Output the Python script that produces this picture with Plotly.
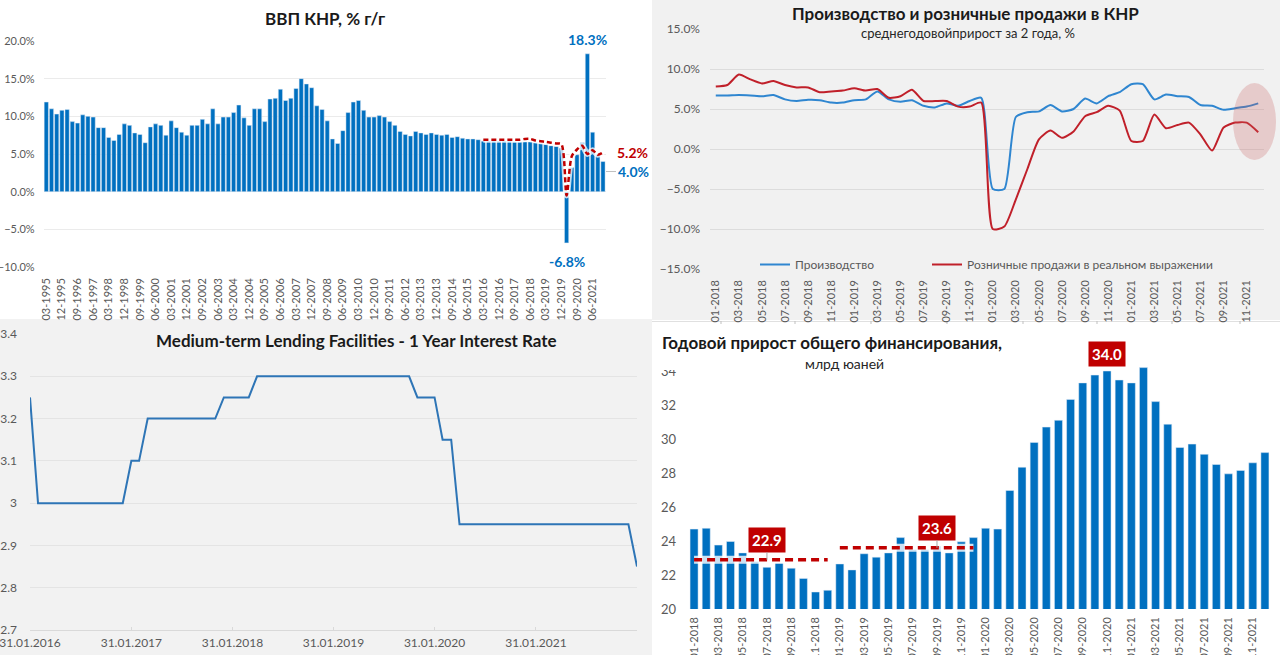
import plotly.graph_objects as go
import pandas as pd

W, H = 1280, 655
def fx(p): return p / W
def fy(p): return 1 - p / H

FONT = "Lato, 'Open Sans', Roboto, sans-serif"
TICK = "#595959"
BLUE = "#0070C0"
RED = "#C00000"

# ---------------- Panel 1: GDP, quarterly % y/y ----------------
gdp_quarters = [f"{m:02d}-{y}" for y in range(1995, 2022) for m in (3, 6, 9, 12)]
gdp_values = [
    11.9, 11.0, 10.3, 10.8,  10.9, 9.3, 9.1, 10.2,  10.0, 9.9, 8.5, 8.5,
    7.2, 6.8, 7.6, 9.0,      8.8, 7.8, 7.6, 6.5,    8.6, 9.0, 8.8, 7.5,
    9.4, 8.5, 7.9, 7.5,      8.8, 8.8, 9.6, 9.0,    11.0, 9.0, 9.9, 9.9,
    10.5, 11.5, 9.8, 8.8,    11.0, 11.0, 9.3, 12.3, 12.4, 13.6, 12.1, 12.4,
    13.7, 15.0, 14.3, 13.8,  11.4, 10.9, 9.4, 7.0,  6.4, 8.1, 10.5, 11.9,
    12.1, 10.8, 9.9, 9.9,    10.1, 9.9, 9.3, 8.8,   8.0, 7.6, 7.4, 8.0,
    7.8, 7.6, 7.8, 7.6,      7.5, 7.6, 7.2, 7.3,    7.1, 7.0, 7.0, 6.9,
    6.7, 6.7, 6.7, 6.7,      6.7, 6.7, 6.6, 6.6,    6.6, 6.6, 6.5, 6.4,
    6.3, 6.1, 6.0, 5.8,      -6.8, 3.2, 4.9, 6.5,   18.3, 7.9, 4.9, 4.0,
]
gdp_tickvals = gdp_quarters[::3]
gdp_avg_quarters = gdp_quarters[84:]
gdp_avg2y = [6.9, 6.9, 6.9, 6.9,  6.9, 6.9, 6.9, 6.9,  7.0, 7.0, 6.8, 6.7,
             6.6, 6.5, 6.4, 6.3,  -0.5, 4.7, 5.6, 6.1,  5.0, 5.5, 4.9, 5.2]

# ---------------- Panel 2: production & retail ----------------
months = [f"{m:02d}-{y}" for y in range(2018, 2022) for m in range(1, 13)]
month_ticks = months[::2]
production = [6.7, 6.7, 6.75, 6.7, 6.6, 6.75, 6.2, 6.0, 6.15, 6.1, 5.8, 5.8,
              6.1, 6.2, 7.2, 6.2, 5.9, 6.1, 5.4, 5.2, 5.7, 5.4, 6.0, 6.4,
              -5.0, -5.0, 4.0, 4.6, 4.7, 5.5, 4.7, 5.0, 6.3, 5.7, 6.6, 7.1,
              8.1, 8.1, 6.2, 6.8, 6.6, 6.5, 5.5, 5.4, 4.9, 5.1, 5.3, 5.7]
retail = [7.8, 8.0, 9.3, 8.7, 8.2, 8.5, 8.0, 7.7, 7.7, 7.1, 7.2, 7.3,
          7.6, 7.3, 7.5, 6.4, 6.6, 7.4, 6.0, 6.0, 6.0, 5.3, 5.3, 5.8,
          -10.0, -9.7, -6.3, -2.5, 1.2, 2.3, 1.4, 2.2, 4.1, 4.6, 5.4, 4.8,
          1.0, 1.0, 4.3, 2.6, 3.0, 3.3, 1.8, -0.2, 2.7, 3.3, 3.3, 2.1]

# ---------------- Panel 3: MLF 1Y rate ----------------
mlf_rate = ([3.25] + [3.0] * 11 + [3.1] * 2 + [3.2] * 9 + [3.25] * 4 +
            [3.3] * 19 + [3.25] * 3 + [3.15] * 2 + [2.95] * 21 + [2.85])
try:
    mlf_dates = pd.date_range("2016-01-31", periods=len(mlf_rate), freq="ME")
except Exception:
    mlf_dates = pd.date_range("2016-01-31", periods=len(mlf_rate), freq="M")
mlf_ticks = ["2016-01-31", "2017-01-31", "2018-01-31", "2019-01-31", "2020-01-31", "2021-01-31"]
mlf_ticktext = ["31.01.2016", "31.01.2017", "31.01.2018", "31.01.2019", "31.01.2020", "31.01.2021"]

# ---------------- Panel 4: total social financing ----------------
tsf_values = [24.7, 24.75, 23.76, 23.97, 23.3, 22.8, 22.45, 22.7, 22.4, 21.8, 21.0, 21.1,
              22.65, 22.3, 23.25, 23.05, 23.3, 24.2, 23.5, 23.5, 23.7, 23.3, 23.95, 24.2,
              24.75, 24.7, 26.97, 28.34, 29.8, 30.7, 31.1, 32.33, 33.3, 33.76, 34.0, 33.47,
              33.3, 34.2, 32.2, 30.87, 29.5, 29.7, 29.1, 28.5, 27.95, 28.15, 28.6, 29.2]
tsf_avg_2018 = 22.9
tsf_avg_2019 = 23.6

fig = go.Figure()

# Panel 1 traces
fig.add_trace(go.Bar(x=gdp_quarters, y=gdp_values, marker_color=BLUE, xaxis="x", yaxis="y",
                     width=0.82, showlegend=False))
fig.add_trace(go.Scatter(x=gdp_avg_quarters, y=gdp_avg2y, mode="lines", xaxis="x", yaxis="y",
                         line=dict(color="rgba(255,255,255,0.75)", width=6, shape="spline", smoothing=0.8),
                         showlegend=False, hoverinfo="skip"))
fig.add_trace(go.Scatter(x=gdp_avg_quarters, y=gdp_avg2y, mode="lines", xaxis="x", yaxis="y",
                         line=dict(color=RED, width=2.5, dash="5px,3px", shape="spline", smoothing=0.8),
                         showlegend=False))

# Panel 2 traces
fig.add_trace(go.Scatter(x=months, y=production, mode="lines", name="Производство",
                         xaxis="x2", yaxis="y2", legend="legend",
                         line=dict(color="#2F86D0", width=2, shape="spline", smoothing=0.6)))
fig.add_trace(go.Scatter(x=months, y=retail, mode="lines", name="Розничные продажи в реальном выражении",
                         xaxis="x2", yaxis="y2", legend="legend2",
                         line=dict(color="#C0202A", width=2, shape="spline", smoothing=0.6)))

# Panel 3 trace
fig.add_trace(go.Scatter(x=mlf_dates, y=mlf_rate, mode="lines", xaxis="x3", yaxis="y3",
                         line=dict(color="#2E75B6", width=2), showlegend=False))

# Panel 4 traces
fig.add_trace(go.Bar(x=months, y=tsf_values, marker_color=BLUE, xaxis="x4", yaxis="y4",
                     width=0.66, showlegend=False))
for seg, val in ((months[0:12], tsf_avg_2018), (months[12:24], tsf_avg_2019)):
    fig.add_trace(go.Scatter(x=seg, y=[val] * len(seg), mode="lines", xaxis="x4", yaxis="y4",
                             line=dict(color="rgba(255,255,255,0.8)", width=8),
                             showlegend=False, hoverinfo="skip"))
    fig.add_trace(go.Scatter(x=seg, y=[val] * len(seg), mode="lines", xaxis="x4", yaxis="y4",
                             line=dict(color=RED, width=3.5, dash="8px,5px"),
                             showlegend=False))

def cat_x(domain, tickvals, size, standoff=8):
    return dict(domain=domain, type="category", automargin=False, ticklabeloverflow="allow",
                tickmode="array", tickvals=tickvals, ticktext=tickvals,
                tickangle=-90, tickfont=dict(family=FONT, size=size, color=TICK),
                showgrid=False, showline=False, ticks="", ticklabelstandoff=standoff)

legfont = dict(family=FONT, size=12, color=TICK)

fig.update_layout(
    width=W, height=H,
    margin=dict(l=0, r=0, t=0, b=0, autoexpand=False),
    paper_bgcolor="white", plot_bgcolor="rgba(0,0,0,0)",
    font=dict(family=FONT, color=TICK),
    barmode="overlay",
    # Panel 1
    xaxis=dict(cat_x([fx(43.7), fx(605.6)], gdp_tickvals, 11), anchor="y",
               range=[-0.5, len(gdp_quarters) - 0.5]),
    yaxis=dict(domain=[fy(267), fy(41)], anchor="x", range=[-10, 20], dtick=5, automargin=False,
               ticklabeloverflow="allow",
               tickformat=".1f", ticksuffix="%", tickfont=dict(family=FONT, size=11, color=TICK),
               showgrid=True, gridcolor="#EBEBEB", zeroline=False, showline=False,
               ticklabelstandoff=8),
    # Panel 2
    xaxis2=dict(cat_x([fx(710), fx(1264)], month_ticks, 11), anchor="y2",
                range=[-0.5, len(months) - 0.5]),
    yaxis2=dict(domain=[fy(269), fy(29)], anchor="x2", range=[-15, 15], dtick=5, automargin=False,
                ticklabeloverflow="allow",
                tickformat=".1f", ticksuffix="%", tickfont=dict(family=FONT, size=12, color=TICK),
                showgrid=True, gridcolor="#DCDCDC", zeroline=False, showline=False,
                ticklabelstandoff=9),
    # Panel 3
    xaxis3=dict(domain=[fx(30), fx(637)], anchor="y3", type="date", automargin=False,
                ticklabeloverflow="allow",
                range=[mlf_dates[0], mlf_dates[-1]],
                tickmode="array", tickvals=mlf_ticks, ticktext=mlf_ticktext,
                tickfont=dict(family=FONT, size=12, color=TICK),
                showgrid=False, showline=True, linecolor="#D9D9D9", linewidth=1,
                ticks="inside", ticklen=3, tickcolor="#D9D9D9", ticklabelstandoff=2),
    yaxis3=dict(domain=[fy(630), fy(334)], anchor="x3", range=[2.7, 3.4], dtick=0.1, automargin=False,
                ticklabeloverflow="allow",
                tickfont=dict(family=FONT, size=12, color=TICK),
                showgrid=True, gridcolor="#E4E4E4", zeroline=False, showline=False,
                ticklabelstandoff=12),
    # Panel 4
    xaxis4=dict(cat_x([fx(688), fx(1271)], month_ticks, 11, standoff=5), anchor="y4",
                range=[-0.5, len(months) - 0.5]),
    yaxis4=dict(domain=[fy(609), fy(354)], anchor="x4", range=[20, 35], automargin=False,
                ticklabeloverflow="allow",
                tickvals=[20, 22, 24, 26, 28, 30, 32, 34],
                tickfont=dict(family=FONT, size=13, color=TICK),
                showgrid=False, zeroline=False, showline=False, ticklabelstandoff=11),
    legend=dict(orientation="h", x=fx(755), y=fy(250), xanchor="left", yanchor="top",
                bgcolor="rgba(0,0,0,0)", font=legfont, itemwidth=30),
    legend2=dict(orientation="h", x=fx(927), y=fy(250), xanchor="left", yanchor="top",
                 bgcolor="rgba(0,0,0,0)", font=legfont, itemwidth=30),
)

shapes = [
    # panel backgrounds
    dict(type="rect", xref="paper", yref="paper", x0=0, x1=fx(652), y0=fy(319), y1=1,
         fillcolor="white", line_width=0, layer="below"),
    dict(type="rect", xref="paper", yref="paper", x0=fx(652), x1=1, y0=fy(320), y1=1,
         fillcolor="#F1F1F1", line_width=0, layer="below"),
    dict(type="rect", xref="paper", yref="paper", x0=0, x1=fx(652), y0=0, y1=fy(319),
         fillcolor="#F2F2F2", line_width=0, layer="below"),
    dict(type="rect", xref="paper", yref="paper", x0=fx(652), x1=1, y0=0, y1=fy(321),
         fillcolor="white", line_width=0, layer="below"),
    dict(type="line", xref="paper", yref="paper", x0=fx(652), x1=1, y0=fy(321.5), y1=fy(321.5),
         line=dict(color="#E0E0E0", width=1), layer="below"),
    # highlight ellipse on panel 2
    dict(type="circle", xref="paper", yref="paper", x0=fx(1233), x1=fx(1276), y0=fy(160), y1=fy(83),
         fillcolor="rgba(200,90,90,0.25)", line_width=0, layer="above"),
    # white box of panel-4 title covering the top of the axis
    dict(type="rect", xref="paper", yref="paper", x0=fx(653), x1=fx(700), y0=fy(370), y1=fy(323),
         fillcolor="white", line_width=0, layer="above"),
]
for tx in (721, 795, 871, 947, 1023, 1097, 1172, 1240):
    shapes.append(dict(type="line", xref="paper", yref="paper", x0=fx(tx), x1=fx(tx),
                       y0=fy(324), y1=fy(321), line=dict(color="#BFBFBF", width=1), layer="below"))
fig.update_layout(shapes=shapes)

ann = []
def title(text, x, y, size, bold=True, xanchor="center", color="#1A1A1A"):
    t = f"<b>{text}</b>" if bold else text
    ann.append(dict(text=t, x=fx(x), y=fy(y), xref="paper", yref="paper", showarrow=False,
                    xanchor=xanchor, yanchor="middle", font=dict(family=FONT, size=size, color=color)))

title("ВВП КНР, % г/г", 325, 19, 17)
title("Производство и розничные продажи в КНР", 965, 13, 17)
title("среднегодовойприрост за 2 года, %", 968, 33, 13, bold=False, color="#262626")
title("Medium-term Lending Facilities - 1 Year Interest Rate", 356, 340, 17)
title("Годовой прирост общего финансирования,", 660, 342, 17, xanchor="left")
title("млрд юаней", 844, 363, 14, bold=False, color="#262626")

lab = dict(family=FONT, size=14)
ann += [
    dict(x=gdp_quarters[104], y=gdp_values[104], xref="x", yref="y", text="<b>18.3%</b>",
         showarrow=False, yanchor="bottom", yshift=4, font=dict(lab, color=BLUE)),
    dict(x=gdp_quarters[100], y=gdp_values[100], xref="x", yref="y", text="<b>-6.8%</b>",
         showarrow=False, yanchor="top", yshift=-8, font=dict(lab, color=BLUE)),
    dict(x=gdp_avg_quarters[-1], y=gdp_avg2y[-1], xref="x", yref="y", text="<b>5.2%</b>",
         showarrow=False, xanchor="left", xshift=12, yshift=0, font=dict(lab, color=RED)),
    dict(x=gdp_quarters[-1], y=gdp_values[-1], xref="x", yref="y", text="<b>4.0%</b>",
         showarrow=True, ax=30, ay=0, yshift=-10, arrowhead=0, arrowwidth=1, arrowcolor="#BFBFBF",
         standoff=3, font=dict(lab, color=BLUE)),
    dict(x=months[6], y=tsf_avg_2018, xref="x4", yref="y4", text="<b>22.9</b>",
         showarrow=True, ax=0, ay=-20, arrowhead=0, arrowwidth=1, arrowcolor="#A6A6A6",
         bgcolor=RED, borderpad=3, font=dict(family=FONT, size=15, color="white")),
    dict(x=months[20], y=tsf_avg_2019, xref="x4", yref="y4", text="<b>23.6</b>",
         showarrow=True, ax=0, ay=-20, arrowhead=0, arrowwidth=1, arrowcolor="#A6A6A6",
         bgcolor=RED, borderpad=3, font=dict(family=FONT, size=15, color="white")),
    dict(x=months[34], y=tsf_values[34], xref="x4", yref="y4", text="<b>34.0</b>",
         showarrow=False, yanchor="bottom", yshift=4,
         bgcolor=RED, borderpad=3, font=dict(family=FONT, size=15, color="white")),
]
fig.update_layout(annotations=ann)

fig.write_html("out.html", config={"displayModeBar": False},
               post_script="document.body.style.margin='0';document.body.style.overflow='hidden';")
